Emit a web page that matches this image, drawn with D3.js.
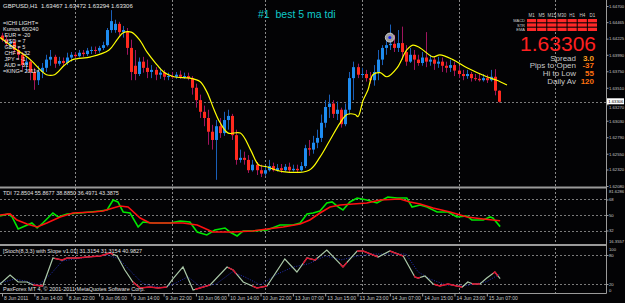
<!DOCTYPE html>
<html>
<head>
<meta charset="utf-8">
<script src="https://cdn.jsdelivr.net/npm/d3@7"></script>
<style>
body { margin: 0; background: #000; }
svg { display: block; font-family: "Liberation Sans", Arial, sans-serif; }
.axis text { fill: #c8c8c8; font-size: 5px; }
.raxis text, .small { font-size: 4.2px; }
.axis line { stroke: #a0a0a0; }
.axis path { display: none; }
.pre { white-space: pre; }
</style>
</head>
<body>
<div id="chart"></div>
<script>
// ---- data (GBPUSD H1) ----
var opens = [1.6427,1.6421,1.6415,1.6418,1.6406,1.6399,1.6384,1.6389,1.6374,1.6362,
  1.6374,1.6380,1.6392,1.6396,1.6386,1.6390,1.6387,1.6395,1.6399,1.6397,
  1.6402,1.6400,1.6405,1.6406,1.6405,1.6409,1.6413,1.6435,1.6435,1.6444,
  1.6432,1.6432,1.6409,1.6383,1.6371,1.6389,1.6380,1.6374,1.6377,1.6370,
  1.6373,1.6367,1.6368,1.6367,1.6370,1.6367,1.6368,1.6365,1.6351,1.6333,
  1.6316,1.6307,1.6287,1.6275,1.6295,1.6285,1.6304,1.6310,1.6282,1.6246,
  1.6249,1.6246,1.6231,1.6239,1.6231,1.6226,1.6231,1.6237,1.6231,1.6234,
  1.6231,1.6236,1.6231,1.6233,1.6231,1.6237,1.6263,1.6261,1.6271,1.6278,
  1.6300,1.6323,1.6328,1.6313,1.6319,1.6298,1.6319,1.6365,1.6381,1.6370,
  1.6371,1.6365,1.6362,1.6374,1.6392,1.6409,1.6413,1.6415,1.6409,1.6416,
  1.6403,1.6389,1.6399,1.6392,1.6387,1.6395,1.6389,1.6392,1.6386,1.6389,
  1.6383,1.6380,1.6384,1.6376,1.6371,1.6368,1.6371,1.6365,1.6364,1.6362,
  1.6365,1.6362,1.6367,1.63467];
var highs = [1.6431,1.6425,1.6422,1.6421,1.6411,1.6403,1.6395,1.6392,1.6380,1.6383,
  1.6387,1.6399,1.6406,1.6399,1.6396,1.6395,1.6402,1.6403,1.6403,1.6406,
  1.6406,1.6409,1.6411,1.6411,1.6412,1.6418,1.6438,1.6464,1.6450,1.6447,
  1.6441,1.6438,1.6421,1.6406,1.6395,1.6396,1.6392,1.6384,1.6381,1.6380,
  1.6377,1.6373,1.6374,1.6374,1.6376,1.6373,1.6373,1.6368,1.6357,1.6341,
  1.6325,1.6319,1.6297,1.6304,1.6307,1.6316,1.6319,1.6313,1.6290,1.6261,
  1.6258,1.6253,1.6246,1.6243,1.6239,1.6237,1.6246,1.6242,1.6240,1.6240,
  1.6240,1.6242,1.6239,1.6239,1.6243,1.6268,1.6275,1.6281,1.6290,1.6312,
  1.6333,1.6341,1.6333,1.6331,1.6322,1.6328,1.6374,1.6389,1.6386,1.6380,
  1.6377,1.6374,1.6384,1.6406,1.6413,1.6424,1.6443,1.6428,1.6435,1.6440,
  1.6413,1.6409,1.6406,1.6399,1.6403,1.6432,1.6399,1.6397,1.6396,1.6395,
  1.6389,1.6392,1.6389,1.6383,1.6377,1.6377,1.6374,1.6371,1.6371,1.6371,
  1.6370,1.6377,1.6378,1.63472];
var lows = [1.6418,1.6411,1.6409,1.6402,1.6392,1.6377,1.6374,1.6362,1.6348,1.6355,
  1.6365,1.6374,1.6383,1.6380,1.6383,1.6383,1.6384,1.6389,1.6393,1.6395,
  1.6396,1.6397,1.6400,1.6400,1.6402,1.6406,1.6411,1.6431,1.6431,1.6427,
  1.6424,1.6399,1.6362,1.6362,1.6368,1.6373,1.6365,1.6365,1.6362,1.6364,
  1.6362,1.6362,1.6364,1.6364,1.6364,1.6364,1.6362,1.6341,1.6322,1.6307,
  1.6295,1.6268,1.6261,1.6217,1.6278,1.6281,1.6290,1.6275,1.6239,1.6242,
  1.6239,1.6227,1.6229,1.6224,1.6221,1.6223,1.6229,1.6229,1.6229,1.6227,
  1.6229,1.6227,1.6229,1.6227,1.6229,1.6234,1.6252,1.6255,1.6263,1.6272,
  1.6293,1.6307,1.6307,1.6304,1.6293,1.6295,1.6312,1.6333,1.6365,1.6365,
  1.6360,1.6357,1.6354,1.6362,1.6384,1.6399,1.6406,1.6403,1.6403,1.6392,
  1.6383,1.6387,1.6377,1.6383,1.6383,1.6381,1.6383,1.6377,1.6380,1.6374,
  1.6373,1.6374,1.6368,1.6365,1.6362,1.6364,1.6360,1.6361,1.6360,1.6360,
  1.6358,1.6360,1.6340,1.63294];
var closes = [1.6421,1.6415,1.6418,1.6406,1.6399,1.6384,1.6389,1.6374,1.6362,1.6374,
  1.6380,1.6392,1.6396,1.6386,1.6390,1.6387,1.6395,1.6399,1.6397,1.6402,
  1.6400,1.6405,1.6406,1.6405,1.6409,1.6413,1.6435,1.6448,1.6444,1.6432,
  1.6435,1.6409,1.6374,1.6371,1.6389,1.6380,1.6374,1.6377,1.6370,1.6373,
  1.6367,1.6368,1.6367,1.6370,1.6367,1.6368,1.6365,1.6351,1.6333,1.6316,
  1.6307,1.6287,1.6275,1.6295,1.6285,1.6304,1.6310,1.6282,1.6246,1.6249,
  1.6246,1.6231,1.6239,1.6231,1.6226,1.6231,1.6237,1.6231,1.6234,1.6231,
  1.6236,1.6231,1.6233,1.6231,1.6237,1.6263,1.6261,1.6271,1.6278,1.6300,
  1.6323,1.6328,1.6313,1.6319,1.6298,1.6319,1.6365,1.6381,1.6370,1.6371,
  1.6365,1.6362,1.6374,1.6392,1.6409,1.6413,1.6415,1.6409,1.6416,1.6403,
  1.6389,1.6399,1.6392,1.6387,1.6395,1.6389,1.6392,1.6386,1.6389,1.6383,
  1.6380,1.6384,1.6376,1.6371,1.6368,1.6371,1.6365,1.6364,1.6362,1.6365,
  1.6362,1.6367,1.63467,1.63306];

// yellow moving average, [bar, price]
var maLine = [[-0.5,1.6424],[3,1.6409],[7,1.6392],[9.5,1.6377],[11,1.6370],[13,1.6370],
  [15.5,1.6384],[17.5,1.6392],[22,1.6396],[26.5,1.6406],[28.5,1.6421],[30,1.6431],
  [32,1.6432],[34,1.6421],[36,1.6402],[38,1.6387],[40,1.6374],[42.5,1.6367],
  [46.5,1.6365],[49,1.6360],[50.7,1.6345],[52.5,1.6319],[54,1.6300],[56,1.6285],
  [59,1.6285],[61.5,1.6261],[63.5,1.6239],[65.5,1.6236],[69.5,1.6229],[76,1.6231],
  [78.7,1.6250],[81.2,1.6275],[83.7,1.6300],[85.4,1.6312],[87.4,1.6312],[88.1,1.6309],
  [89.4,1.6333],[90.6,1.6348],[91.8,1.6370],[93.6,1.6373],[95.3,1.6367],[97.8,1.6380],
  [100.2,1.6406],[101.7,1.6413],[103.5,1.6409],[106.7,1.6396],[108.4,1.6399],
  [111.6,1.6392],[115.1,1.6380],[120,1.6367],[122.5,1.6362],[125,1.6355]];

var markerBar = 96, markerPrice = 1.6424;
var currentPrice = 1.63306;

var priceTicks = [1.64700,1.64465,1.64225,1.63990,1.63750,1.63510,1.63270,1.63030,1.62790,1.62550,1.62320,1.62080];
var timeBars = [0,8,16,24,32,40,48,56,64,72,80,88,96,104,112,120];
var timeLabels = ["8 Jun 2011","8 Jun 14:00","8 Jun 22:00","9 Jun 06:00","9 Jun 14:00","9 Jun 22:00",
  "10 Jun 06:00","10 Jun 14:00","10 Jun 22:00","13 Jun 07:00","13 Jun 15:00","13 Jun 23:00",
  "14 Jun 07:00","14 Jun 15:00","14 Jun 23:00","15 Jun 07:00"];
var separatorBars = [18,42,65,89,113,137];

// TDI: green price line and red signal line, [bar, value]
var tdiPrice = [[-0.5,48.8],[1.5,51.2],[2.5,47.7],[4,33.8],[5.7,37.3],[7.4,40.7],[8.7,34.9],
  [10.1,40.7],[12.6,52.3],[13.9,47.7],[16.1,51.2],[19.3,52.3],[24.3,54.6],[26,55.8],
  [27.5,67.4],[28.7,65.1],[30,53.5],[31.7,52.3],[33.7,36.1],[34.9,41.9],[37.4,40.7],
  [41.6,40.7],[44.1,43],[46.5,41.9],[48.3,30.3],[50.7,26.8],[52.7,32.6],[55.2,34.9],
  [56.4,30.3],[58.2,25.7],[59.7,31.5],[62.1,31.5],[65.6,32.6],[68.8,38.4],[72,38.4],
  [73.8,40.7],[75.5,51.2],[77,52.3],[78.7,54.6],[80.4,63.9],[81.7,65.1],[83.2,59.3],
  [84.4,55.8],[86.1,65.1],[87.9,69.7],[90.3,67.4],[92.8,63.9],[95.5,70.9],[97.8,69.7],
  [100.2,69.7],[101.5,59.3],[103.5,61.6],[105.2,59.3],[107.7,53.5],[110.4,53.5],
  [112.6,47.7],[115.1,48.8],[116.3,44.2],[119.1,44.2],[120.8,47.7],[121.5,46.5],[123.3,36.5]];
var tdiSignal = [[-0.5,50],[2,51.2],[3.7,44.2],[6.2,39.6],[8.7,36.1],[11.1,40.7],[14.4,47.7],
  [17.6,52.3],[22.5,53.5],[25,54.6],[27.5,58.1],[29.2,60.4],[31.2,59.3],[34.2,46.5],
  [36.6,40.7],[39.1,40.7],[44.8,40.7],[48.3,38.4],[52.2,30.3],[57.2,30.3],[62.1,31.5],
  [65.6,33.8],[69.6,36.1],[73.8,39.6],[76.2,44.2],[78.7,52.3],[81.2,59.3],[83.7,61.6],
  [86.9,62.7],[90.3,63.9],[93.6,67.4],[98.5,68.5],[101,65.1],[103.5,62.7],[106.7,58.1],
  [110.9,53.5],[115.1,47.7],[119.1,45.4],[123.3,43.4]];
var tdiLevels = [68, 50, 32];
var tdiRange = [16.3557, 81.6286];

// Stochastic with slope, [bar, value]
var stochMain = [[-0.5,20],[2,38.6],[4,24.2],[6.2,24.2],[7.7,18],[10.1,15.9],[12.6,73.8],
  [14.9,69.6],[16.1,73.8],[18.6,73.8],[21,75.8],[24.3,77.9],[26.7,84.1],[28.5,77.9],
  [30.4,49],[32.4,24.2],[34.2,11.8],[36.6,13.8],[38.6,11.8],[40.8,13.8],[42.3,30.4],
  [44.8,55.2],[47.3,7.6],[49,11.8],[51.5,18],[55.7,55.2],[57.2,49],[59.7,24.2],
  [63.1,11.8],[65.6,15.9],[70,71.7],[73,44.8],[75.5,73.8],[77.5,69.6],[80.4,90.3],
  [84.4,55.2],[87.9,88.2],[89.4,88.2],[93.1,75.8],[96,88.2],[99.3,77.9],[102.2,34.5],
  [103,32.4],[104.7,36.6],[106.7,20],[108.4,15.9],[110.4,20],[112.6,15.9],[113.9,13.8],
  [115.3,24.2],[116.6,20],[118.3,20],[120,32.4],[122,44.8],[123.3,31.3]];
var stochSignal = [[-0.5,22],[3,30],[6,26],[9,18],[12,40],[15,68],[20,74],[26,80],[29,72],
  [32,45],[35,20],[40,12],[43,22],[46,35],[49,15],[53,20],[57,45],[60,35],[64,18],[68,40],
  [72,55],[76,62],[80,78],[84,70],[88,78],[92,82],[96,82],[100,82],[103,45],[106,30],
  [110,18],[114,16],[117,20],[120,25],[123.3,41]];
var stochRedRanges = [[7.7,10.1],[13,27.5],[32.4,40.8],[47.8,51.5],[56,58],[62,65.6],[74.5,78],
  [83.7,85.4],[87.9,93],[96,99.3],[102,103.5],[107,113.9],[116.3,118.3],[121.5,122.8]];
var stochLevels = [80, 20];

// text overlays
var headerText = "GBPUSD,H1  1.63467 1.63472 1.63294 1.63306";
var titleText = "#1  best 5 ma tdi";
var ichiLines = ["=ICHI LIGHT=","Kumos 60/240"," EUR = -20"," USD = 7"," GBP = 5"," CHF = -32"," JPY = -1"," AUD = 31","=KING= 2011="];
var timeframes = ["M1","M5","M15","M30","H1","H4","D1"];
var signalRows = ["MACD","STR","EMA"];
var infoLabels = ["Spread","Pips to Open","Hi to Low","Daily Av"];
var infoValues = ["3.0","-37","55","120"];
var tdiHeader = "TDI 72.8504 55.8677 38.8850 36.4971 43.3875";
var stochHeader = "[Stoch(8,3,3) with Slope v1.01] 31.3154 31.3154 40.9827";
var copyright = "PaxForex MT 4, \u00a9 2001-2011 MetaQuotes Software Corp.";

// ---- drawing ----
var W = 625, H = 303, plotRight = 606;
var mainBottom = 187, tdiTop = 188, tdiBottom = 244.5, stTop = 245.5, stBottom = 293.5;

var svg = d3.select("#chart").append("svg").attr("width", W).attr("height", H);
svg.append("rect").attr("width", W).attr("height", H).attr("fill", "#030305");

var x = d3.scaleLinear().domain([0, 150]).range([2, 2 + 4.04 * 150]);
var yPrice = d3.scaleLinear().domain([1.62080, 1.64700]).range([186, 6]);
var yTdi = d3.scaleLinear().domain(tdiRange).range([244, 187.7]);
var yStoch = d3.scaleLinear().domain([0, 100]).range([293.7, 245.3]);

var defs = svg.append("defs");
defs.append("clipPath").attr("id", "clipMain").append("rect")
    .attr("x", 0).attr("y", 0).attr("width", plotRight).attr("height", mainBottom);
defs.append("clipPath").attr("id", "clipTdi").append("rect")
    .attr("x", 0).attr("y", tdiTop).attr("width", plotRight).attr("height", tdiBottom - tdiTop);
var redClip = defs.append("clipPath").attr("id", "clipStochRed");
redClip.selectAll("rect").data(stochRedRanges).enter().append("rect")
    .attr("x", function(d) { return x(d[0]); })
    .attr("width", function(d) { return x(d[1]) - x(d[0]); })
    .attr("y", stTop).attr("height", stBottom - stTop);

// period separators and level lines
svg.append("g").selectAll("line").data(separatorBars).enter().append("line")
    .attr("x1", function(d) { return Math.round(x(d)) + 0.5; })
    .attr("x2", function(d) { return Math.round(x(d)) + 0.5; })
    .attr("y1", 0).attr("y2", stBottom)
    .attr("stroke", "#8a8a8a").attr("stroke-dasharray", "2,2");

function hDotted(y) {
    svg.append("line").attr("x1", 0).attr("x2", plotRight)
        .attr("y1", Math.round(y) + 0.5).attr("y2", Math.round(y) + 0.5)
        .attr("stroke", "#7a7a7a").attr("stroke-dasharray", "2,2");
}
hDotted(yPrice(currentPrice));
tdiLevels.forEach(function(v) { hDotted(yTdi(v)); });
stochLevels.forEach(function(v) { hDotted(yStoch(v)); });

// candles
var bars = closes.map(function(c, i) {
    return {i: i, o: opens[i], h: highs[i], l: lows[i], c: c};
});
var main = svg.append("g").attr("clip-path", "url(#clipMain)");
main.selectAll(".wick").data(bars).enter().append("line")
    .attr("class", "wick")
    .attr("x1", function(d) { return Math.round(x(d.i)) + 0.5; })
    .attr("x2", function(d) { return Math.round(x(d.i)) + 0.5; })
    .attr("y1", function(d) { return yPrice(d.h); })
    .attr("y2", function(d) { return yPrice(d.l); })
    .attr("stroke", function(d) { return d.c >= d.o ? "#1a5fb8" : "#a0145e"; });
main.selectAll(".body").data(bars).enter().append("rect")
    .attr("class", "body")
    .attr("x", function(d) { return Math.round(x(d.i)) - 1; })
    .attr("width", 3)
    .attr("y", function(d) { return yPrice(Math.max(d.o, d.c)); })
    .attr("height", function(d) { return Math.max(1, Math.abs(yPrice(d.o) - yPrice(d.c))); })
    .attr("fill", function(d) { return d.c >= d.o ? "#1e8cf0" : "#ff2a1e"; });

var maPath = d3.line()
    .curve(d3.curveCatmullRom)
    .x(function(d) { return x(d[0]); })
    .y(function(d) { return yPrice(d[1]); });
main.append("path").attr("d", maPath(maLine))
    .attr("fill", "none").attr("stroke", "#ffff00").attr("stroke-width", 1.2);

// marker circle
main.append("circle").attr("cx", x(markerBar)).attr("cy", yPrice(markerPrice)).attr("r", 4.5)
    .attr("fill", "#9a9a9a").attr("stroke", "#e0e0e0").attr("stroke-width", 0.8);
main.append("circle").attr("cx", x(markerBar)).attr("cy", yPrice(markerPrice)).attr("r", 1.5)
    .attr("fill", "#1020ff");

// TDI panel
var tdiG = svg.append("g").attr("clip-path", "url(#clipTdi)");
var tdiLine = d3.line()
    .x(function(d) { return x(d[0]); })
    .y(function(d) { return yTdi(d[1]); });
tdiG.append("path").attr("d", tdiLine(tdiPrice))
    .attr("fill", "none").attr("stroke", "#00e600").attr("stroke-width", 1.6);
tdiG.append("path").attr("d", tdiLine(tdiSignal))
    .attr("fill", "none").attr("stroke", "#ff1010").attr("stroke-width", 1.6);

// Stochastic panel
var stLine = d3.line()
    .x(function(d) { return x(d[0]); })
    .y(function(d) { return yStoch(d[1]); });
svg.append("path").attr("d", stLine(stochSignal))
    .attr("fill", "none").attr("stroke", "#2838e0").attr("stroke-width", 0.8)
    .attr("stroke-dasharray", "1,1.5");
svg.append("path").attr("d", stLine(stochMain))
    .attr("fill", "none").attr("stroke", "#aac8a8").attr("stroke-width", 1.2);
svg.append("path").attr("d", stLine(stochMain)).attr("clip-path", "url(#clipStochRed)")
    .attr("fill", "none").attr("stroke", "#e01030").attr("stroke-width", 1.4);

// panel borders
[mainBottom + 0.5, tdiBottom + 0.5].forEach(function(y) {
    svg.append("rect").attr("x", 0).attr("y", y - 1).attr("width", plotRight).attr("height", 2)
        .attr("fill", "#9a9a9a");
});
svg.append("line").attr("x1", 0).attr("x2", plotRight + 0.5).attr("y1", stBottom).attr("y2", stBottom)
    .attr("stroke", "#9a9a9a");
svg.append("line").attr("x1", plotRight + 0.5).attr("x2", plotRight + 0.5).attr("y1", 0).attr("y2", stBottom)
    .attr("stroke", "#9a9a9a");

// right axes, small type so the labels fit the margin
var cpY = yPrice(currentPrice);
function rightAxis(scale, values, fmt) {
    return svg.append("g").attr("class", "axis raxis").attr("transform", "translate(" + (plotRight + 0.5) + ",0)")
        .call(d3.axisRight(scale).tickValues(values).tickSize(2).tickPadding(0.5).tickFormat(fmt));
}
var pAxis = rightAxis(yPrice, priceTicks, d3.format(".5f"));
// the label hidden under the current-price box is only peeking out below it
pAxis.selectAll(".tick").filter(function(d) { return Math.abs(yPrice(d) - cpY) < 5; })
    .select("text").attr("dy", "1.1em");
rightAxis(yTdi, tdiLevels, d3.format("d"));
rightAxis(yStoch, stochLevels, d3.format("d"));

var axisText = svg.append("g").attr("class", "small").attr("fill", "#c8c8c8");
axisText.append("text").attr("x", plotRight + 3).attr("y", yTdi(tdiRange[1]) + 5).text(tdiRange[1].toFixed(4));
axisText.append("text").attr("x", plotRight + 3).attr("y", yTdi(tdiRange[0]) - 1).text(tdiRange[0].toFixed(4));
axisText.append("text").attr("x", plotRight + 3).attr("y", yStoch(100) + 5.5).text("100");
axisText.append("text").attr("x", plotRight + 3).attr("y", yStoch(0) - 2).text("0");

// current price box
svg.append("rect").attr("x", plotRight + 1).attr("y", cpY - 3.5).attr("width", 17).attr("height", 6)
    .attr("fill", "#ffffff");
svg.append("text").attr("class", "small").attr("x", plotRight + 2.3).attr("y", cpY + 1.5)
    .attr("fill", "#000")
    .text(d3.format(".5f")(currentPrice));

// time axis
var tAxis = svg.append("g").attr("class", "axis").attr("transform", "translate(0," + stBottom + ")")
    .call(d3.axisBottom(x).tickValues(timeBars).tickSize(3).tickFormat(function(d, i) { return timeLabels[i]; }));
tAxis.selectAll("text").attr("text-anchor", "start").attr("dx", "1.5").attr("y", 3);

// texts
svg.append("text").attr("x", 3).attr("y", 8).attr("font-size", 6).attr("fill", "#e6e6e6")
    .attr("class", "pre").text(headerText);
svg.append("text").attr("x", 258).attr("y", 18).attr("font-size", 10.5).attr("fill", "#10c8c8")
    .attr("class", "pre").text(titleText);
svg.append("g").selectAll("text").data(ichiLines).enter().append("text")
    .attr("class", "pre").attr("x", 3).attr("y", function(d, i) { return 25 + i * 6; })
    .attr("font-size", 5.5).attr("fill", "#e8e8e8").text(function(d) { return d; });
svg.append("text").attr("x", 3).attr("y", 195).attr("font-size", 5.5).attr("fill", "#e0e0e0").text(tdiHeader);
svg.append("text").attr("x", 3).attr("y", 253).attr("font-size", 5.5).attr("fill", "#e0e0e0").text(stochHeader);
svg.append("text").attr("x", 3).attr("y", 291).attr("font-size", 5.5).attr("fill", "#e0e0e0").text(copyright);

// signal panel (top right)
var panel = svg.append("g");
var colX = d3.scaleBand().domain(timeframes).range([527, 597]).paddingInner(0.1);
var rowY = d3.scaleBand().domain(signalRows).range([19, 31]).paddingInner(0.25);
panel.selectAll(".tf").data(timeframes).enter().append("text")
    .attr("x", function(d) { return colX(d) + colX.bandwidth() / 2; })
    .attr("y", 17).attr("text-anchor", "middle").attr("font-size", 4.5).attr("fill", "#d0d0d0")
    .text(function(d) { return d; });
panel.selectAll(".rl").data(signalRows).enter().append("text")
    .attr("x", 525).attr("y", function(d) { return rowY(d) + rowY.bandwidth(); })
    .attr("text-anchor", "end").attr("font-size", 4).attr("fill", "#d0d0d0")
    .text(function(d) { return d; });
signalRows.forEach(function(r) {
    panel.selectAll(".c" + r).data(timeframes).enter().append("rect")
        .attr("x", function(d) { return colX(d); })
        .attr("y", rowY(r)).attr("width", colX.bandwidth()).attr("height", rowY.bandwidth())
        .attr("fill", "#ff2828");
});
panel.append("text").attr("x", 596).attr("y", 50.5).attr("text-anchor", "end")
    .attr("font-size", 21).attr("fill", "#ff2020").text(d3.format(".5f")(currentPrice));
panel.selectAll(".il").data(infoLabels).enter().append("text")
    .attr("x", 576).attr("y", function(d, i) { return 60.5 + i * 7.8; })
    .attr("text-anchor", "end").attr("font-size", 8).attr("fill", "#c8c8c8")
    .text(function(d) { return d; });
panel.selectAll(".iv").data(infoValues).enter().append("text")
    .attr("x", 594).attr("y", function(d, i) { return 60.5 + i * 7.8; })
    .attr("text-anchor", "end").attr("font-size", 8).attr("font-weight", "bold")
    .attr("fill", function(d, i) { return i === 0 ? "#ffa020" : "#ff7010"; })
    .text(function(d) { return d; });
</script>
</body>
</html>
